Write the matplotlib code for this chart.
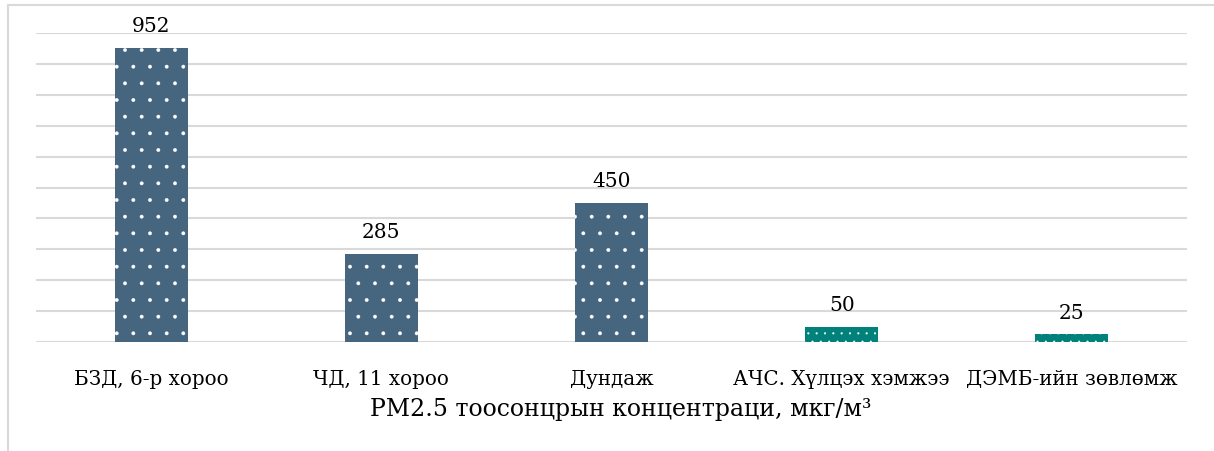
import matplotlib
matplotlib.use("Agg")
import matplotlib.pyplot as plt
from matplotlib.lines import Line2D

categories = ["БЗД, 6-р хороо", "ЧД, 11 хороо", "Дундаж", "АЧС. Хүлцэх хэмжээ", "ДЭМБ-ийн зөвлөмж"]
values = [952, 285, 450, 50, 25]
bar_colors = ["#46657F", "#46657F", "#46657F", "#00827A", "#00827A"]
hatches = [".", ".", ".", "..", ".."]
xlabel = "PM2.5 тоосонцрын концентраци, мкг/м³"

plt.rcParams['font.family'] = ['DejaVu Serif']
plt.rcParams['hatch.linewidth'] = 0.3

W, H = 1214, 452
fig = plt.figure(figsize=(W / 100, H / 100), dpi=100)
ax = fig.add_axes([36 / W, 109 / H, (1187 - 36) / W, (343 - 34) / H])

x = list(range(len(categories)))
for i, (v, c, h) in enumerate(zip(values, bar_colors, hatches)):
    ax.bar(i, v, width=73 / 230, color=c, edgecolor="white", linewidth=0, hatch=h, zorder=3)
    ax.annotate(str(v), (i, v), xytext=(0, 9), textcoords="offset points",
                ha="center", va="bottom", fontsize=14.5, color="#000000")

ax.set_xlim(-0.5, len(categories) - 0.5)
ax.set_ylim(0, 1000)
ax.set_yticks(range(0, 1001, 100))
ax.yaxis.grid(True, color="#D9D9D9", linewidth=1.5, zorder=0)
ax.set_axisbelow(True)
ax.tick_params(axis="y", left=False, labelleft=False)
ax.tick_params(axis="x", bottom=False, labelsize=14.3, pad=16)
ax.set_xticks(x)
ax.set_xticklabels(categories)
for s in ax.spines.values():
    s.set_visible(False)
ax.set_xlabel(xlabel, fontsize=17, va="center")
ax.xaxis.set_label_coords(0.508, -(410 - 343) / (343 - 34))

# chart border (left and top)
fig.add_artist(Line2D([7.5 / W, 7.5 / W], [0, 1 - 6 / H], color="#D9D9D9", linewidth=1.5))
fig.add_artist(Line2D([7.5 / W, 1.01], [1 - 6 / H, 1 - 6 / H], color="#D9D9D9", linewidth=1.5))

fig.savefig("out.png", dpi=100, facecolor="white")
